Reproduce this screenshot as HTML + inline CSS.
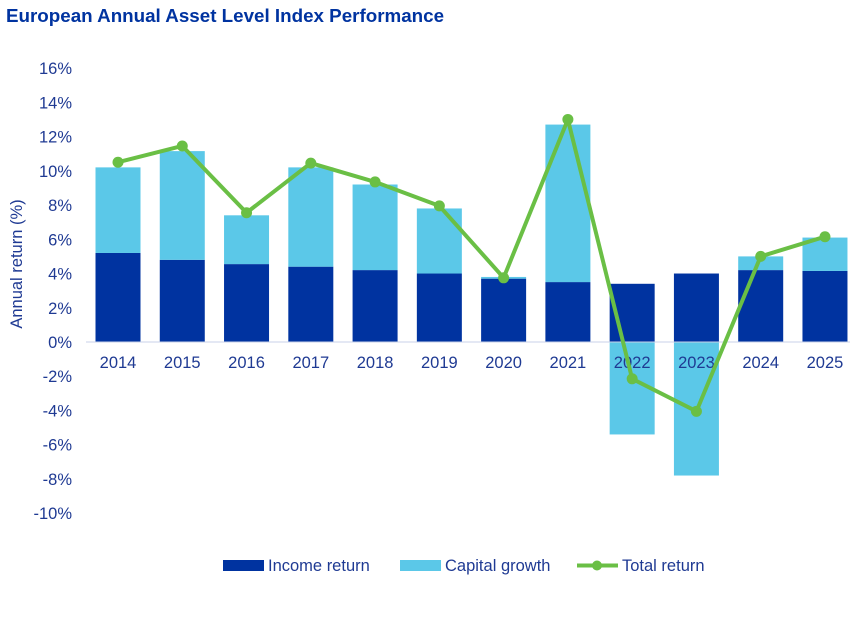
<!DOCTYPE html>
<html><head><meta charset="utf-8"><style>
body{margin:0;background:#fff;font-family:"Liberation Sans",Arial,sans-serif}
</style></head><body>
<svg id="chart" width="859" height="619" xmlns="http://www.w3.org/2000/svg">
<text x="6" y="22" font-size="18.8" font-weight="bold" fill="#0033a0" font-family="Liberation Sans, sans-serif">European Annual Asset Level Index Performance</text>
<text transform="translate(22,264) rotate(-90)" text-anchor="middle" font-size="16.5" fill="#1f3a93" font-family="Liberation Sans, sans-serif">Annual return (%)</text>
<g id="plot"></g>
<g font-family="Liberation Sans, sans-serif" font-size="16.5" fill="#1f3a93">
<rect x="223" y="560" width="41" height="11" fill="#0033a0"/>
<text x="268" y="571">Income return</text>
<rect x="400" y="560" width="41" height="11" fill="#5bc8e8"/>
<text x="445" y="571">Capital growth</text>
<line x1="577" y1="565.5" x2="618" y2="565.5" stroke="#6abf45" stroke-width="4"/>
<circle cx="597" cy="565.5" r="5" fill="#6abf45"/>
<text x="622" y="571">Total return</text>
</g>
</svg>
<script>
const categories=["2014","2015","2016","2017","2018","2019","2020","2021","2022","2023","2024","2025"];
const incomeReturn=[5.2,4.8,4.55,4.4,4.2,4.0,3.7,3.5,3.4,4.0,4.2,4.15];
const capitalGrowth=[5.0,6.35,2.85,5.8,5.0,3.8,0.1,9.2,-5.4,-7.8,0.8,1.95];
const totalReturn=[10.5,11.45,7.55,10.45,9.35,7.95,3.75,13.0,-2.15,-4.05,5.0,6.15];
const yTicks=[16,14,12,10,8,6,4,2,0,-2,-4,-6,-8,-10];

const NS="http://www.w3.org/2000/svg";
const g=document.getElementById('plot');
const y0=342,perPct=17.12,x0=118,step=64.27,bw=45;
const yS=v=>y0-v*perPct;
const xS=i=>x0+i*step;
function mk(t,a){const e=document.createElementNS(NS,t);for(const k in a)e.setAttribute(k,a[k]);g.appendChild(e);return e;}
yTicks.forEach(t=>{
  const e=mk('text',{x:72,y:yS(t)+6,'text-anchor':'end','font-size':16.5,fill:'#1f3a93','font-family':'Liberation Sans, sans-serif'});
  e.textContent=t+'%';
  
  
});
categories.forEach((c,i)=>{
  const x=xS(i);
  const inc=incomeReturn[i],cap=capitalGrowth[i];
  const r1=mk('rect',{x:x-bw/2,y:yS(inc),width:bw,height:inc*perPct,fill:'#0033a0'});
  
  
  let top,h;
  if(cap>=0){top=yS(inc+cap);h=cap*perPct;}else{top=y0;h=-cap*perPct;}
  const r2=mk('rect',{x:x-bw/2,y:top,width:bw,height:h,fill:'#5bc8e8'});
  
  
  const t=mk('text',{x:x,y:368,'text-anchor':'middle','font-size':16.5,fill:'#1f3a93','font-family':'Liberation Sans, sans-serif'});
  t.textContent=c;
  
  
});
const ax=mk('line',{x1:86,x2:850,y1:y0,y2:y0,stroke:'#c8d2e8','stroke-width':1});


const pts=totalReturn.map((v,i)=>xS(i)+','+yS(v)).join(' ');
const pl=mk('polyline',{points:pts,fill:'none',stroke:'#6abf45','stroke-width':4,'stroke-linejoin':'round'});


totalReturn.forEach((v,i)=>{
  const c=mk('circle',{cx:xS(i),cy:yS(v),r:5.5,fill:'#6abf45'});
  
  
});
</script>
</body></html>
